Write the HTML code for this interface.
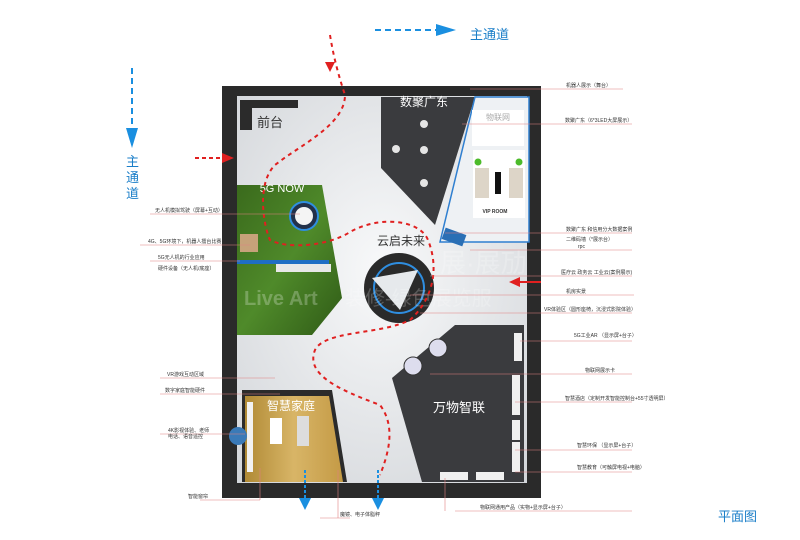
<!DOCTYPE html>
<html><head><meta charset="utf-8"><style>
body{margin:0;width:800px;height:540px;background:#fff;overflow:hidden;font-family:"Liberation Sans","Noto Sans CJK SC",sans-serif}
svg{display:block}
.l{font-size:5px;fill:#333}
</style></head><body>
<svg width="800" height="540" viewBox="0 0 800 540" xmlns="http://www.w3.org/2000/svg" font-family="Liberation Sans, Noto Sans CJK SC, sans-serif">
<defs>
<radialGradient id="fl" cx="0.5" cy="0.45" r="0.75"><stop offset="0" stop-color="#f8f9fa"/><stop offset="1" stop-color="#d2d5d9"/></radialGradient>
<linearGradient id="gr" x1="0" y1="0" x2="1" y2="1"><stop offset="0" stop-color="#3a6a1c"/><stop offset="0.5" stop-color="#4f8a2a"/><stop offset="1" stop-color="#2f5a16"/></linearGradient>
<linearGradient id="wd" x1="0" y1="0" x2="1" y2="0"><stop offset="0" stop-color="#b08a35"/><stop offset="0.5" stop-color="#d8b567"/><stop offset="1" stop-color="#c49a45"/></linearGradient>
</defs>
<rect x="222" y="86" width="319" height="412" fill="#2a2a2a"/>
<rect x="237" y="96" width="290" height="387" fill="url(#fl)"/>
<polygon points="381,97 475,97 435,225 381,168" fill="#3a3b3e"/>
<polygon points="475,97 529,97 529,242 440,242" fill="#eef1f4" stroke="#2f7fd0" stroke-width="1.5"/>
<rect x="472" y="110" width="52" height="36" fill="#fff"/>
<text x="498" y="120" font-size="8" fill="#aaa" text-anchor="middle">物联网</text>
<rect x="473" y="150" width="52" height="68" fill="#fff"/>
<rect x="475" y="168" width="14" height="30" fill="#ddd5c8"/><rect x="509" y="168" width="14" height="30" fill="#ddd5c8"/>
<rect x="495" y="172" width="6" height="22" fill="#111"/>
<circle cx="478" cy="162" r="3.5" fill="#4cbb2a"/><circle cx="519" cy="162" r="3.5" fill="#4cbb2a"/>
<text x="495" y="213" font-size="5" fill="#333" text-anchor="middle" font-weight="bold">VIP ROOM</text>
<g fill="#e5e5e5"><circle cx="424" cy="124" r="4"/><circle cx="396" cy="149" r="4"/><circle cx="424" cy="150" r="4"/><circle cx="424" cy="183" r="4"/></g>
<text x="424" y="106" font-size="12" fill="#fff" text-anchor="middle">数聚广东</text>
<polygon points="240,100 298,100 298,108 252,108 252,130 240,130" fill="#2b2b2b"/>
<text x="270" y="127" font-size="13" fill="#333" text-anchor="middle">前台</text>
<polygon points="237,185 322,185 342,298 312,335 237,335" fill="url(#gr)"/>
<rect x="237" y="260" width="92" height="4" fill="#1f6ec4"/>
<rect x="276" y="264" width="55" height="8" fill="#e8e8e8"/>
<text x="282" y="192" font-size="11" fill="#fff" text-anchor="middle">5G NOW</text>
<circle cx="304" cy="216" r="14" fill="#23314a" stroke="#2f8ee0" stroke-width="2"/>
<circle cx="304" cy="216" r="9" fill="#f4f4f4"/>
<rect x="240" y="234" width="18" height="18" fill="#c6a27a"/>
<circle cx="399" cy="288" r="35" fill="#2a2a2a"/>
<circle cx="399" cy="288" r="25" fill="none" stroke="#2f8ee0" stroke-width="2"/>
<polygon points="372,278 418,270 400,310" fill="#e6e9ec"/>
<text x="401" y="245" font-size="12" fill="#333" text-anchor="middle">云启未来</text>
<rect x="443" y="231" width="22" height="12" fill="#2a6fb5" transform="rotate(20 454 237)"/>
<polygon points="392,378 455,325 524,325 524,482 422,482" fill="#3a3b3e"/>
<g fill="#f0f0f0"><rect x="514" y="333" width="8" height="28"/><rect x="512" y="375" width="8" height="40"/><rect x="512" y="420" width="8" height="20"/><rect x="512" y="442" width="8" height="30"/><rect x="440" y="472" width="28" height="8"/><rect x="476" y="472" width="28" height="8"/></g>
<circle cx="438" cy="348" r="9" fill="#dde" stroke="#333"/><circle cx="413" cy="366" r="9" fill="#dde" stroke="#333"/>
<text x="459" y="412" font-size="13" fill="#fff" text-anchor="middle">万物智联</text>
<polygon points="242,390 332,390 347,482 242,482" fill="#2b2b2b"/>
<polygon points="245,396 329,396 343,482 245,482" fill="url(#wd)"/>
<rect x="270" y="418" width="12" height="26" fill="#fff"/><rect x="297" y="416" width="12" height="30" fill="#ddd"/>
<rect x="247" y="402" width="6" height="70" fill="#f2f2f2"/>
<text x="291" y="410" font-size="12" fill="#fff" text-anchor="middle">智慧家庭</text>
<circle cx="238" cy="436" r="9" fill="#3a7ab8"/>
<text x="244" y="305" font-size="20" fill="#fff" fill-opacity="0.25" font-weight="bold">Live Art</text>
<text x="345" y="305" font-size="20" fill="#fff" fill-opacity="0.22">装修-绿色展览服</text>
<text x="440" y="272" font-size="26" fill="#fff" fill-opacity="0.22">展·展劢</text>
<path d="M330,35 C334,60 340,80 345,95 C345,125 300,145 275,165 C255,185 265,230 270,240 C290,250 330,245 350,232 C380,215 420,220 428,240 C440,270 432,300 410,320 C380,335 325,330 315,350 C305,375 340,390 380,405 C395,425 390,450 380,475" fill="none" stroke="#e02020" stroke-width="2" stroke-dasharray="4,4"/>
<polygon points="325,62 335,62 330,72" fill="#e02020"/>
<line x1="195" y1="158" x2="222" y2="158" stroke="#e02020" stroke-width="2" stroke-dasharray="4,3"/>
<polygon points="222,153 234,158 222,163" fill="#e02020"/>
<line x1="541" y1="282" x2="520" y2="282" stroke="#e02020" stroke-width="2"/>
<polygon points="520,277 509,282 520,287" fill="#e02020"/>
<line x1="375" y1="30" x2="438" y2="30" stroke="#1a8fe0" stroke-width="2" stroke-dasharray="6,4"/>
<polygon points="436,24 456,30 436,36" fill="#1a8fe0"/>
<text x="470" y="39" font-size="13" fill="#1a7ec8">主通道</text>
<line x1="132" y1="68" x2="132" y2="130" stroke="#1a8fe0" stroke-width="2" stroke-dasharray="6,4"/>
<polygon points="126,128 132,148 138,128" fill="#1a8fe0"/>
<text font-size="13" fill="#1a7ec8"><tspan x="126" y="166">主</tspan><tspan x="126" y="182">通</tspan><tspan x="126" y="198">道</tspan></text>
<line x1="305" y1="470" x2="305" y2="500" stroke="#1a8fe0" stroke-width="2" stroke-dasharray="3,2"/>
<polygon points="299,498 305,510 311,498" fill="#1a8fe0"/>
<line x1="378" y1="470" x2="378" y2="500" stroke="#1a8fe0" stroke-width="2" stroke-dasharray="3,2"/>
<polygon points="372,498 378,510 384,498" fill="#1a8fe0"/>
<text x="718" y="521" font-size="13" fill="#1a7ec8">平面图</text>
<g stroke="#e08080" stroke-width="0.6">
<line x1="470" y1="89" x2="623" y2="89"/><line x1="462" y1="124" x2="632" y2="124"/>
<line x1="445" y1="233" x2="632" y2="233"/><line x1="470" y1="250" x2="632" y2="250"/>
<line x1="430" y1="276" x2="632" y2="276"/><line x1="410" y1="295" x2="634" y2="295"/>
<line x1="420" y1="313" x2="632" y2="313"/><line x1="520" y1="341" x2="632" y2="341"/>
<line x1="430" y1="374" x2="632" y2="374"/><line x1="515" y1="402" x2="632" y2="402"/>
<line x1="515" y1="450" x2="632" y2="450"/><line x1="515" y1="472" x2="632" y2="472"/>
<line x1="455" y1="511" x2="632" y2="511"/><line x1="445" y1="478" x2="445" y2="511"/>
<line x1="150" y1="214" x2="300" y2="214"/><line x1="140" y1="245" x2="250" y2="245"/>
<line x1="150" y1="261" x2="240" y2="261"/><line x1="160" y1="378" x2="275" y2="378"/>
<line x1="160" y1="394" x2="280" y2="394"/><line x1="160" y1="434" x2="245" y2="434"/>
<line x1="200" y1="500" x2="260" y2="500"/><line x1="260" y1="468" x2="260" y2="500"/>
<line x1="320" y1="518" x2="350" y2="518"/><line x1="338" y1="470" x2="338" y2="518"/>
</g>
<g class="l">
<text x="566" y="87">机器人展示（舞台）</text>
<text x="565" y="122">数聚广东（6*3LED大屏展示）</text>
<text x="566" y="231">数聚广东 和信用分大数据案例</text>
<text x="566" y="241">二维码墙（*展示台）</text>
<text x="578" y="248">rpc</text>
<text x="561" y="274">医疗云 政务云 工业云(案例展示)</text>
<text x="566" y="293">机房实景</text>
<text x="544" y="311">VR体验区（圆形座椅，沉浸式影院体验）</text>
<text x="574" y="337">5G工业AR （显示屏+台子）</text>
<text x="585" y="372">物联网展示卡</text>
<text x="565" y="400">智慧酒店（定制开发智能控制台+55寸透明屏）</text>
<text x="577" y="447">智慧环保 （显示屏+台子）</text>
<text x="577" y="469">智慧教育（可触屏电视+电脑）</text>
<text x="480" y="509">物联网通用产品（实物+显示屏+台子）</text>
<text x="155" y="212">无人机模拟驾驶（屏幕+互动）</text>
<text x="148" y="243">4G、5G环境下，机器人擂台比赛</text>
<text x="158" y="259">5G无人机的行业应用</text>
<text x="158" y="270">硬件设备（无人机/底座）</text>
<text x="167" y="376">VR游戏互动区域</text>
<text x="165" y="392">数字家庭智能硬件</text>
<text x="168" y="432">4K影视体验、老师</text>
<text x="168" y="438">电话、语音遥控</text>
<text x="188" y="498">智能窗帘</text>
<text x="340" y="516">魔镜、电子体脂秤</text>
</g>
</svg>
</body></html>
